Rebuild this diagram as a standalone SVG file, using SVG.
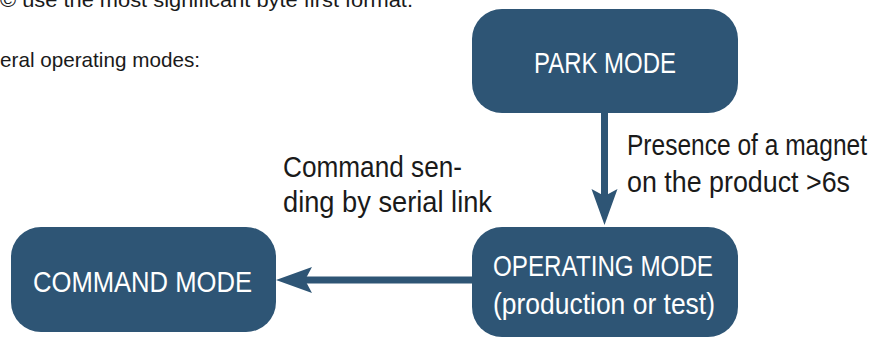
<svg xmlns="http://www.w3.org/2000/svg" width="880" height="338" viewBox="0 0 880 338">
<style>
.box{fill:#2e5575;}
.lbl{font-family:"Liberation Sans","Open Sans",sans-serif;font-size:30px;fill:#ffffff;}
.txt{font-family:"Liberation Sans","Open Sans",sans-serif;font-size:30px;fill:#1a1a1a;}
.sm{font-family:"Liberation Sans","Open Sans",sans-serif;font-size:21px;fill:#1a1a1a;}
.edge{stroke:#2e5575;stroke-width:7;fill:none;}
.head{fill:#2e5575;}
</style>
<defs>
<path id="ah" class="head" d="M0,0 L-36,-13 L-29,0 L-36,13 Z"/>
</defs>
<text class="sm" x="0" y="7" textLength="413" lengthAdjust="spacingAndGlyphs">© use the most significant byte first format.</text>
<text class="sm" x="0" y="67" textLength="200" lengthAdjust="spacingAndGlyphs">eral operating modes:</text>
<g id="connectors">
<path class="edge" d="M604.5,113 L604.5,200"/>
<use href="#ah" transform="translate(604.5,225) rotate(90)"/>
<path class="edge" d="M472,280 L300,280"/>
<use href="#ah" transform="translate(276,280) rotate(180)"/>
<text class="txt" x="627" y="155" textLength="240" lengthAdjust="spacingAndGlyphs">Presence of a magnet</text>
<text class="txt" x="627" y="192" textLength="223" lengthAdjust="spacingAndGlyphs">on the product &gt;6s</text>
<text class="txt" x="283" y="177" textLength="179" lengthAdjust="spacingAndGlyphs">Command sen-</text>
<text class="txt" x="283" y="212" textLength="209" lengthAdjust="spacingAndGlyphs">ding by serial link</text>
</g>
<g id="park">
<rect class="box" x="472" y="9" width="266" height="104" rx="30"/>
<text class="lbl" x="534" y="73" textLength="142" lengthAdjust="spacingAndGlyphs">PARK MODE</text>
</g>
<g id="operating">
<rect class="box" x="472" y="227" width="266" height="110" rx="30"/>
<text class="lbl" x="493" y="276" textLength="220" lengthAdjust="spacingAndGlyphs">OPERATING MODE</text>
<text class="lbl" x="493" y="314" textLength="222" lengthAdjust="spacingAndGlyphs">(production or test)</text>
</g>
<g id="command">
<rect class="box" x="11" y="227" width="265" height="105" rx="30"/>
<text class="lbl" x="33" y="292" textLength="219" lengthAdjust="spacingAndGlyphs">COMMAND MODE</text>
</g>
</svg>
